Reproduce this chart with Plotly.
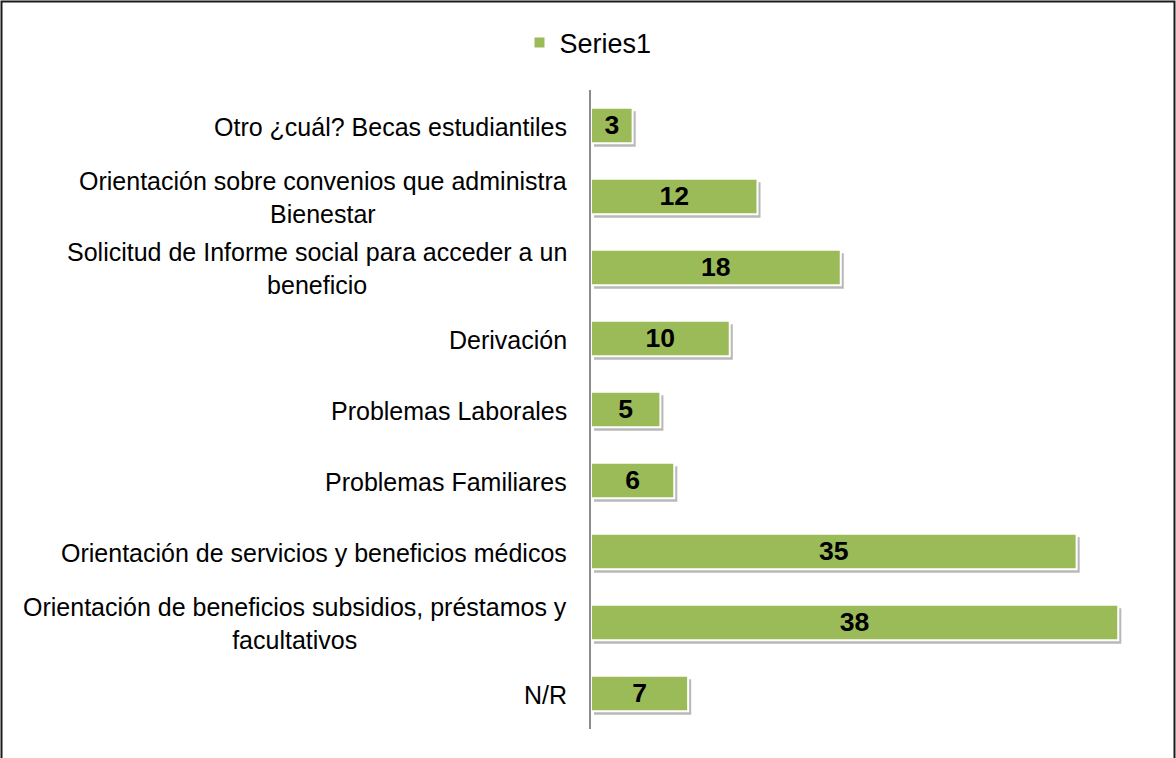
import plotly.graph_objects as go

# Categories, listed top to bottom
categories = [
    "Otro ¿cuál? Becas estudiantiles",
    "Orientación sobre convenios que administra<br>Bienestar",
    "Solicitud de Informe social para acceder a un<br>beneficio",
    "Derivación",
    "Problemas Laborales",
    "Problemas Familiares",
    "Orientación de servicios y beneficios médicos",
    "Orientación de beneficios subsidios, préstamos y<br>facultativos",
    "N/R",
]
values = [3, 12, 18, 10, 5, 6, 35, 38, 7]
series_name = "Series1"

W, H = 1176, 758
ML, MR, MT, MB = 591, 30, 90, 29
GREEN = "#9BBB59"
FONT = "Liberation Sans, Arial, sans-serif"

fig = go.Figure()

# soft drop shadow under each bar
fig.add_trace(go.Bar(
    y=categories, x=values, base=0.22, orientation="h",
    width=0.5, offset=-0.20,
    marker=dict(color="rgba(0,0,0,0.28)", line=dict(width=0)),
    showlegend=False, hoverinfo="skip",
))

fig.add_trace(go.Bar(
    y=categories, x=values, orientation="h", name=series_name,
    width=0.5, offset=-0.25,
    marker=dict(color=GREEN, line=dict(color="white", width=2)),
    text=[str(v) for v in values], textposition="inside",
    insidetextanchor="middle", textangle=0,
    textfont=dict(family=FONT, size=27, color="black", weight="bold"),
))

# category labels, centred per line and right-anchored to the axis
for cat in categories:
    fig.add_annotation(
        x=0, y=cat, xref="x", yref="y", text=cat, showarrow=False,
        xanchor="right", yanchor="middle", align="center", xshift=-22,
        yshift=-1,
        font=dict(family=FONT, size=25, color="black"),
    )

pw, ph = W - ML - MR, H - MT - MB
# outer chart frame (pixel edges converted to paper units)
fig.add_shape(
    type="rect", xref="paper", yref="paper",
    x0=(1.5 - ML) / pw, x1=(W - 1.5 - ML) / pw,
    y0=(H - MB - (H + 5)) / ph, y1=(H - MB - 1.5) / ph,
    line=dict(color="#1a1a1a", width=2), layer="above",
)

fig.update_layout(
    width=W, height=H,
    margin=dict(l=ML, r=MR, t=MT, b=MB),
    paper_bgcolor="white", plot_bgcolor="white",
    barmode="overlay",
    font=dict(family=FONT, color="black"),
    showlegend=True,
    legend=dict(
        orientation="h", x=(588 - ML) / pw, xanchor="center",
        y=1 + (MT - 43) / ph, yanchor="middle",
        bgcolor="rgba(0,0,0,0)",
        font=dict(family=FONT, size=27), traceorder="normal",
    ),
    xaxis=dict(range=[0, 40], showgrid=False, zeroline=False,
               showticklabels=False, showline=False, fixedrange=True),
    yaxis=dict(autorange="reversed", showgrid=False, zeroline=False,
               showticklabels=False, showline=True, linecolor="#8c8c8c",
               linewidth=2, ticks=""),
)

fig.write_html("out.html")
